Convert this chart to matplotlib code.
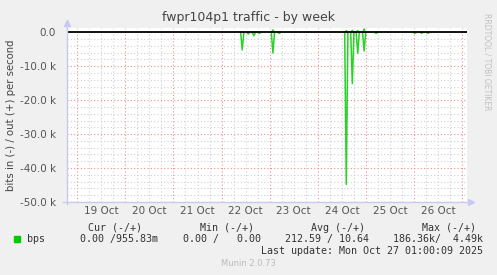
import numpy as np
import matplotlib
matplotlib.use("Agg")
import matplotlib.pyplot as plt
from matplotlib.lines import Line2D
from matplotlib.ticker import MultipleLocator, FixedLocator

# hours after 19 Oct 00:00 where traffic spikes show up, and their size (bps)
in_hours = [82.3, 85.3, 88.1, 90.8, 97.6, 100.7, 134.2, 137.2, 139.9, 143.1,
            149.1, 168.4, 171.8, 174.9]
in_bps = [5200, 500, 1000, 300, 6100, 300, 44800, 15100, 6200, 5500,
          300, 300, 300, 300]
out_hours = [97.6, 134.2, 137.2, 139.9, 143.1]
out_bps = [700, 500, 600, 500, 1000]

day_labels = ["19 Oct", "20 Oct", "21 Oct", "22 Oct", "23 Oct", "24 Oct", "25 Oct", "26 Oct"]
y_ticks = [0, -10000, -20000, -30000, -40000, -50000]
y_labels = ["0.0", "-10.0 k", "-20.0 k", "-30.0 k", "-40.0 k", "-50.0 k"]

legend_cols = ["Cur (-/+)", "Min (-/+)", "Avg (-/+)", "Max (-/+)"]
legend_vals = ["0.00 /955.83m", "0.00 /   0.00", "212.59 / 10.64", "186.36k/  4.49k"]

W, H = 497, 275
bg = "#F0F0F0"
green = "#00CC00"

fig = plt.figure(figsize=(W / 100, H / 100), dpi=100, facecolor=bg)
def fx(x): return x / W
def fy(y): return 1 - y / H

ax = fig.add_axes([fx(67), fy(202), fx(467) - fx(67), fy(27.7) - fy(202)])
ax.set_facecolor("white")
for s in ax.spines.values():
    s.set_visible(False)

ax.set_xlim(-5.1, 194.4)
ax.set_ylim(-50000, 1360)

# grid
ax.xaxis.set_minor_locator(MultipleLocator(6))
ax.yaxis.set_minor_locator(MultipleLocator(2000))
ax.grid(which="minor", color="#D0D0D0", linestyle=(0, (1, 2)), linewidth=0.8)
ax.set_xticks(np.arange(0, 193, 24))
ax.set_yticks(y_ticks)
ax.grid(which="major", color="#E89090", linestyle=(0, (1, 2)), linewidth=0.8)
ax.set_axisbelow(True)
ax.tick_params(which="both", length=0)
ax.set_xticklabels([])
ax.set_yticklabels(y_labels, fontsize=7.5, color="#555555")
ax.tick_params(axis="y", pad=8)

# day labels at noon
for i, lab in enumerate(day_labels):
    ax.text(12 + 24 * i, -0.05, lab, transform=ax.get_xaxis_transform(),
            ha="center", va="center", fontsize=7.5, color="#555555")

# traffic: in drawn below zero, out above
for h, v in zip(in_hours, in_bps):
    ax.plot([h - 0.8, h, h + 0.8], [0, -v, 0], color=green, lw=1.1, alpha=0.85)
for h, v in zip(out_hours, out_bps):
    ax.plot([h - 0.6, h, h + 0.6], [0, v, 0], color=green, lw=1.1, alpha=0.85)
ax.axhline(0, color="black", lw=1.3, zorder=5)

# axis lines with arrows
ax_col = "#C8C8F0"
fig.add_artist(Line2D([fx(66.5), fx(66.5)], [fy(204), fy(24)], color=ax_col, lw=1))
fig.add_artist(Line2D([fx(66.5)], [fy(23)], marker="^", color="#C8C8F8", markersize=5))
fig.add_artist(Line2D([fx(63), fx(470)], [fy(202), fy(202)], color=ax_col, lw=1))
fig.add_artist(Line2D([fx(471)], [fy(202)], marker=">", color="#C8C8F8", markersize=5))

fig.text(fx(249), fy(18), "fwpr104p1 traffic - by week", ha="center", va="center",
         fontsize=9, color="#444444")
fig.text(fx(11), fy(115), "bits in (-) / out (+) per second", rotation=90,
         ha="center", va="center", fontsize=7.3, color="#444444")
fig.text(fx(487), fy(62), "RRDTOOL / TOBI OETIKER", rotation=270,
         ha="center", va="center", fontsize=5.5, color="#C0C0C0")

mono = dict(family="DejaVu Sans Mono", fontsize=7.2, color="#333333", va="center")
for cx, lab in zip([115.5, 227.5, 338, 449], legend_cols):
    fig.text(fx(cx), fy(227.7), lab, ha="center", **mono)
fig.add_artist(plt.Rectangle((fx(14), fy(242)), fx(5.5), fy(236) - fy(242), color=green))
fig.text(fx(27), fy(239.3), "bps", ha="left", **mono)
for rx, val in zip([158, 261, 369, 483], legend_vals):
    fig.text(fx(rx), fy(239.3), val, ha="right", **mono)
fig.text(fx(483), fy(251), "Last update: Mon Oct 27 01:00:09 2025", ha="right", **mono)
fig.text(fx(248), fy(264), "Munin 2.0.73", ha="center", va="center", fontsize=6,
         color="#BBBBBB")

fig.savefig("out.png", dpi=100, facecolor=bg)
